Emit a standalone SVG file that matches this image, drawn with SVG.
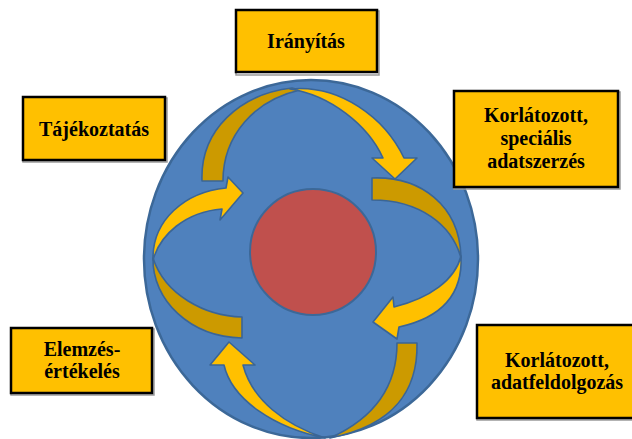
<svg xmlns="http://www.w3.org/2000/svg" width="632" height="439" viewBox="0 0 632 439">
<style>
.box{fill:#FFC000;stroke:#000;stroke-width:2.5}
.shadow{fill:none;stroke:#9a9a9a;stroke-width:1.5}
.lbl{font-family:"Liberation Serif","Times New Roman",serif;font-weight:bold;font-size:20px;fill:#000;text-anchor:middle}
.light{fill:#FFC000;stroke:#3A6596;stroke-width:1.6;stroke-linejoin:round}
.dark{fill:#CC9A00;stroke:#3A6596;stroke-width:1.6;stroke-linejoin:round}
</style>
<rect width="632" height="439" fill="#fff"/>
<g id="globe">
<ellipse cx="311" cy="259" rx="167" ry="179" fill="#4F81BD" stroke="#3C6898" stroke-width="2.5"/>
<circle cx="313" cy="252" r="63" fill="#C0504D" stroke="#3C6898" stroke-width="2"/>
</g>
<g id="connectors">
<path class="dark" d="M202,181 C200,130 240,94 292,88 L300,90 C255,100 223,135 223,181 Z"/>
<path class="light" d="M290,89 C340,84 385,118 404,158 L417,158 L395,179 L372,158 L383,158 C368,125 330,95 290,89 Z"/>
<path class="dark" d="M372,178 C420,176 460,205 461,258 C452,225 420,200 372,200 Z"/>
<path class="light" d="M461,256 C463,295 440,318 399,327 L397,339 L373,322 L393,297 L394,307 C430,298 455,280 461,256 Z"/>
<path class="dark" d="M397,343 L417,343 C418,390 395,425 330,438 C370,420 397,390 397,343 Z"/>
<path class="light" d="M325,438 C275,428 232,400 224,365 L210,365 L229,342 L255,365 L243,365 C252,400 285,425 325,438 Z"/>
<path class="dark" d="M242,317 C205,316 165,295 153,258 C152,300 190,337 242,338 Z"/>
<path class="light" d="M153,260 C152,220 185,192 226,188 L228,177 L243,193 L220,220 L222,209 C185,212 160,235 153,260 Z"/>
</g>
<g id="iranyitas">
<rect class="shadow" x="236" y="11" width="143" height="64"/>
<rect class="box" x="236" y="10" width="141" height="62"/>
<text class="lbl" x="306" y="48">Irányítás</text>
</g>
<g id="tajekoztatas">
<rect class="shadow" x="23" y="98" width="144" height="64"/>
<rect class="box" x="23" y="97" width="142" height="63"/>
<text class="lbl" x="94" y="136">Tájékoztatás</text>
</g>
<g id="korlatozott-specialis">
<rect class="shadow" x="454" y="92" width="166" height="97"/>
<rect class="box" x="454" y="91" width="164" height="96"/>
<text class="lbl" x="536" y="122">Korlátozott,</text>
<text class="lbl" x="536" y="145">speciális</text>
<text class="lbl" x="536" y="168">adatszerzés</text>
</g>
<g id="elemzes">
<rect class="shadow" x="11" y="329" width="143" height="66"/>
<rect class="box" x="11" y="328" width="141" height="65"/>
<text class="lbl" x="82" y="356">Elemzés-</text>
<text class="lbl" x="82" y="378">értékelés</text>
</g>
<g id="korlatozott-adatfeldolgozas">
<rect class="shadow" x="477" y="326" width="162" height="94"/>
<rect class="box" x="477" y="325" width="160" height="93"/>
<text class="lbl" x="557" y="367">Korlátozott,</text>
<text class="lbl" x="557" y="389">adatfeldolgozás</text>
</g>
</svg>
